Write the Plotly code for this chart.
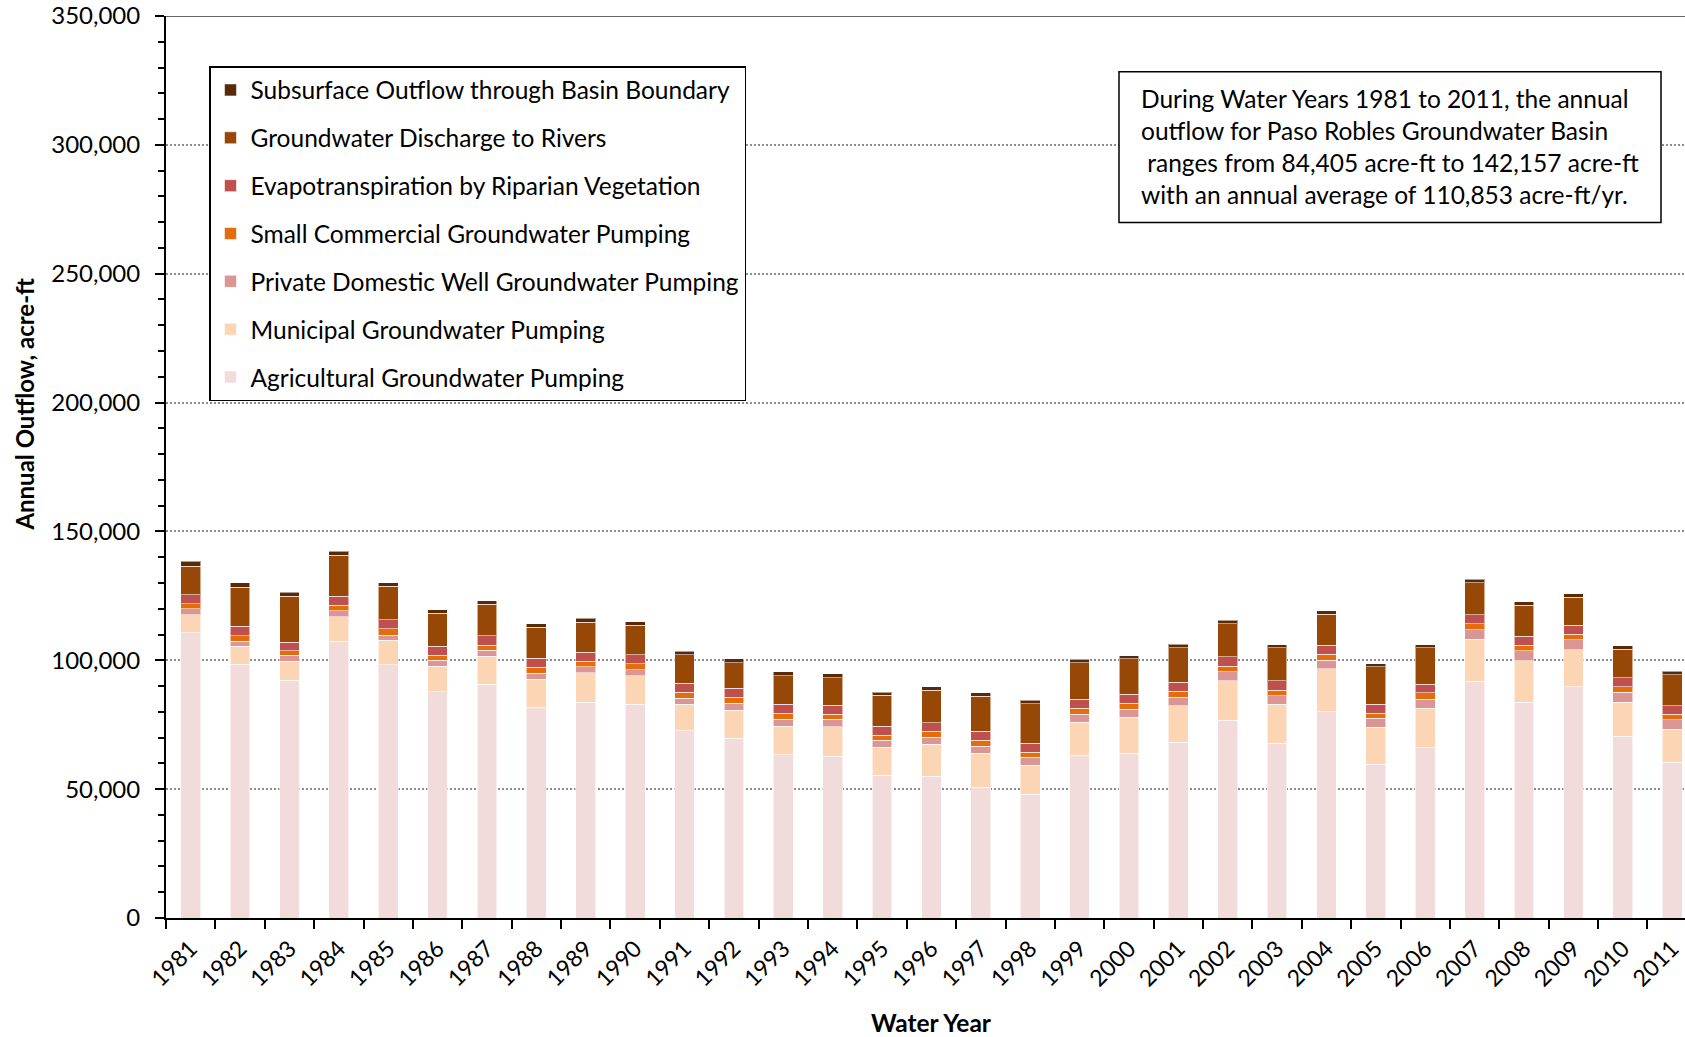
import plotly.graph_objects as go

# Water years shown on the category axis
years = [str(y) for y in range(1981, 2012)]

# Annual outflow components, acre-ft
agricultural = [110600, 98410, 92310, 107480, 98270, 87770, 90750, 81810, 83680, 82900,
                72670, 69690, 63340, 62700, 55440, 55050, 50650, 48060, 63210, 63860,
                68140, 76690, 67750, 80050, 59720, 66060, 91840, 83680, 89640, 70470, 60360]
municipal = [7130, 7130, 7390, 9340, 9470, 9990, 10770, 10890, 11400, 11010,
             10230, 11010, 11140, 11520, 10880, 12310, 13210, 11270, 12830, 14120,
             14240, 15410, 15280, 16580, 14240, 15420, 16320, 16190, 14380, 13210, 12960]
private_domestic = [2200, 1940, 2200, 2330, 2070, 2200, 2460, 2330, 2330, 2460,
                    2460, 2720, 2720, 2860, 2720, 2850, 2850, 2980, 3110, 3110,
                    3240, 3370, 3240, 3370, 3500, 3490, 3630, 3760, 3880, 3890, 3630]
small_commercial = [1950, 2070, 1820, 2210, 2340, 2080, 1950, 2210, 2200, 2210,
                    2210, 2200, 2200, 1940, 1950, 2200, 2200, 1940, 2200, 2200,
                    2340, 2200, 2200, 2330, 1940, 2470, 2460, 2200, 2210, 2070, 2200]
riparian_et = [3630, 3640, 3240, 3500, 3500, 3370, 3500, 3500, 3500, 3490,
               3490, 3500, 3500, 3500, 3490, 3370, 3500, 3500, 3500, 3500,
               3490, 3620, 3500, 3500, 3500, 3230, 3370, 3500, 3490, 3500, 3240]
river_discharge = [11020, 15170, 17900, 15810, 13100, 12840, 12310, 12060, 11660, 11530,
                   11010, 9970, 11140, 10740, 11920, 12560, 13600, 15410, 14240, 13730,
                   13470, 12960, 12820, 12050, 14510, 14250, 12560, 12050, 10880, 11140, 12050]
subsurface_outflow = [1810, 1680, 1550, 1560, 1420, 1420, 1430, 1420, 1550, 1430,
                      1430, 1430, 1420, 1430, 1290, 1430, 1300, 1300, 1300, 1290,
                      1300, 1300, 1300, 1290, 1290, 1170, 1300, 1290, 1430, 1420, 1290]

# Stacked bottom to top
series = [
    ("Agricultural Groundwater Pumping", agricultural, "#F2DCDB"),
    ("Municipal Groundwater Pumping", municipal, "#FCD5B5"),
    ("Private Domestic Well Groundwater Pumping", private_domestic, "#DA9694"),
    ("Small Commercial Groundwater Pumping", small_commercial, "#E46C0A"),
    ("Evapotranspiration by Riparian Vegetation", riparian_et, "#C0504D"),
    ("Groundwater Discharge to Rivers", river_discharge, "#974706"),
    ("Subsurface Outflow through Basin Boundary", subsurface_outflow, "#5A2A08"),
]

summary_lines = [
    "During Water Years 1981 to 2011, the annual",
    "outflow for Paso Robles Groundwater Basin",
    "\u00a0ranges from 84,405 acre-ft to 142,157 acre-ft",
    "with an annual average of 110,853 acre-ft/yr.",
]

FONT = "Lato"
W, H = 1685, 1037
L, T, B = 166, 16, 918          # plot-area edges in pixels
PW, PH = W - L, B - T


def px_to_paper(px, py):
    return (px - L) / PW, (B - py) / PH


fig = go.Figure()
n = len(series)
for i, (name, vals, color) in enumerate(series):
    fig.add_trace(go.Bar(
        x=years, y=vals, name=name, legendgroup=f"g{i}", legendrank=n - i,
        marker=dict(color=color, line=dict(color="rgba(255,255,255,0.55)", width=1)),
    ))

lx, ly = px_to_paper(209, 66)
fig.update_layout(
    width=W, height=H,
    margin=dict(l=L, r=0, t=T, b=H - B),
    barmode="stack", bargap=0.6,
    plot_bgcolor="white", paper_bgcolor="white",
    font=dict(family=FONT, size=22, color="black"),
    showlegend=True,
    legend=dict(
        x=lx, y=ly, xanchor="left", yanchor="top",
        traceorder="grouped", tracegroupgap=13,
        bordercolor="black", borderwidth=1.5, bgcolor="white",
        font=dict(family=FONT, size=24.5, color="black"),
        itemwidth=30,
    ),
)

fig.update_xaxes(
    type="category", range=[-0.5, 30.26],
    showline=True, linecolor="black", linewidth=2,
    ticks="outside", tickson="boundaries", ticklen=9, tickwidth=2, tickcolor="black",
    tickangle=-45, tickfont=dict(family=FONT, size=23, color="black"),
    ticklabelstandoff=6,
    showgrid=False,
)
fig.update_yaxes(
    range=[0, 350000], dtick=50000, tickformat=",d",
    showline=True, linecolor="black", linewidth=2,
    ticks="outside", ticklen=9, tickwidth=2, tickcolor="black",
    tickfont=dict(family=FONT, size=24, color="black"),
    ticklabelstandoff=10,
    showgrid=True, gridcolor="#8c8c8c", gridwidth=1.5, griddash="2px,2px",
    zeroline=False,
    minor=dict(dtick=10000, ticks="outside", ticklen=6, tickwidth=2, tickcolor="black", showgrid=False),
)

# Solid rule across the top of the plot area
fig.add_shape(type="line", xref="paper", yref="y", x0=0, x1=1, y0=350000, y1=350000,
              line=dict(color="#333333", width=1.5))

# Axis titles
tx, ty = px_to_paper(23.6, 404)
fig.add_annotation(text="<b>Annual Outflow, acre-ft</b>", xref="paper", yref="paper",
                   x=tx, y=ty, xanchor="center", yanchor="middle",
                   textangle=-90, showarrow=False, font=dict(family=FONT, size=24, color="black"))
tx, ty = px_to_paper(931, 1022)
fig.add_annotation(text="<b>Water Year</b>", xref="paper", yref="paper",
                   x=tx, y=ty, xanchor="center", yanchor="middle",
                   showarrow=False, font=dict(family=FONT, size=24.5, color="black"))

# Summary text box
x0p, y0p = px_to_paper(1119, 222.4)
x1p, y1p = px_to_paper(1661, 71.7)
fig.add_shape(type="rect", xref="paper", yref="paper", x0=x0p, x1=x1p, y0=y0p, y1=y1p,
              line=dict(color="black", width=1.5), fillcolor="white", layer="above")
for txt, cy in zip(summary_lines, [98.5, 130.5, 162.5, 194.5]):
    xp, yp = px_to_paper(1139.3, cy)
    fig.add_annotation(text=txt, xref="paper", yref="paper", x=xp, y=yp,
                       xanchor="left", yanchor="middle", showarrow=False,
                       font=dict(family=FONT, size=24.5, color="black"))

fig.write_html("out.html")
